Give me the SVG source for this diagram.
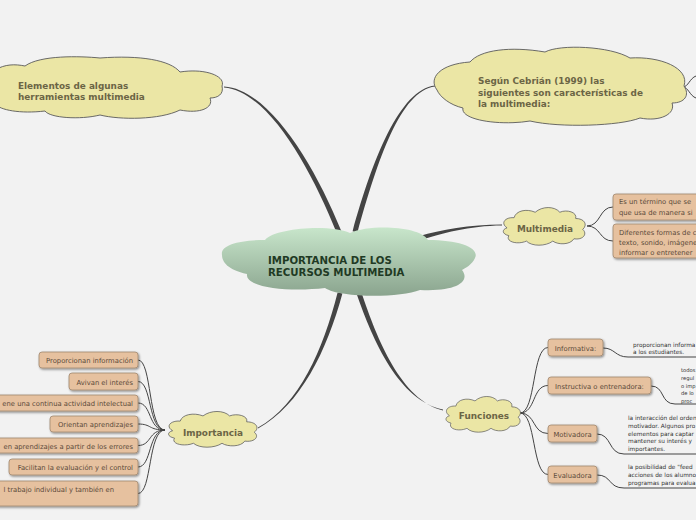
<svg xmlns="http://www.w3.org/2000/svg" width="696" height="520" viewBox="0 0 696 520">
<defs>
<linearGradient id="gc" x1="0" y1="0" x2="0" y2="1">
<stop offset="0" stop-color="#c8e6cb"/>
<stop offset="1" stop-color="#8aa48e"/>
</linearGradient>
<filter id="sh" x="-10%" y="-20%" width="130%" height="160%">
<feDropShadow dx="1" dy="1.2" stdDeviation="0.8" flood-color="#000" flood-opacity="0.45"/>
</filter>
<path id="sc" d="M 8,28 C 0,22 6,14 16,15 C 18,6 30,3 40,8 C 48,0 62,0 68,8 C 76,4 88,8 86,16 C 96,16 100,24 94,30 C 100,36 94,44 84,42 C 80,50 66,50 60,45 C 52,52 36,52 30,45 C 20,50 6,46 10,38 C 2,36 2,30 8,28 Z"/>
</defs>
<style>
.bg{fill:#f2f2f2}
.cl{fill:#ebe6a5;stroke:#5a5a5a;stroke-width:0.9;vector-effect:non-scaling-stroke}
.ct{font-family:"DejaVu Sans",Verdana,sans-serif;font-weight:bold;font-size:8.9px;fill:#6b6545}
.mt{font-family:"DejaVu Sans",Verdana,sans-serif;font-weight:bold;font-size:10.2px;fill:#1f3a24}
.bx{fill:#e6c19f;stroke:#a08870;stroke-width:0.8;filter:url(#sh)}
.bt{font-family:"DejaVu Sans",Verdana,sans-serif;font-size:6.8px;fill:#5b4a3a}
.st{font-family:"DejaVu Sans",Verdana,sans-serif;font-size:5.8px;fill:#333}
.sn{font-family:"DejaVu Sans",Verdana,sans-serif;font-size:5.2px;fill:#333}
.ln{fill:none;stroke:#444;stroke-width:1}
.tp{fill:#444}
</style>
<rect class="bg" x="0" y="0" width="696" height="520"/>

<g id="connectors">
<path class="tp" d="M 224,86.5 C 268.5,89 314,163.5 341.3,231.1 L 336.7,232.9 C 310,166.5 267.5,91 224,87.5 Z"/>
<path class="tp" d="M 435,85.5 C 399.5,89.5 372.5,159.5 352.6,231.3 L 357.4,232.7 C 377.5,160.5 400.5,90.5 435,86.5 Z"/>
<path class="tp" d="M 502,224.5 C 470,224.5 440,230 419.5,236 L 420.5,240 C 440,234 470,225.5 502,225.5 Z"/>
<path class="tp" d="M 337.6,292.4 C 323,349.5 299.5,404.5 258,427.5 L 258,428.5 C 300.5,405.5 327,350.5 342.4,293.6 Z"/>
<path class="tp" d="M 356.6,293.8 C 373,341 399,400.5 443,409.5 L 443,410.5 C 401,399.5 377,339 361.4,292.2 Z"/>
<path class="ln" d="M 683,87 C 688,87 690,78 696,76 M 683,87 C 688,87 690,96 696,98"/>
<path class="ln" d="M 587,226 C 601,226 599,207 613,207 M 587,226 C 601,226 599,241 613,241"/>
<path class="ln" d="M 138,360 C 152,360 148,430 165,430 M 138,381.5 C 152,381.5 148,430 165,430 M 138,403 C 152,403 148,430 165,430 M 138,424 C 152,424 148,430 165,430 M 138,445.5 C 152,445.5 148,430 165,430 M 138,467 C 152,467 148,430 165,430 M 138,493.5 C 152,493.5 148,430 165,430"/>
<path class="ln" d="M 520,413 C 536,413 532,347.5 548,347.5 M 520,413 C 536,413 532,385.5 548,385.5 M 520,413 C 536,413 532,433.5 548,433.5 M 520,413 C 536,413 532,474.5 548,474.5"/>
<path class="ln" d="M 603,348 C 615,348 615,357 628,357 L 696,357"/>
<path class="ln" d="M 651,386 C 665,386 660,404 675,404 L 696,404"/>
<path class="ln" d="M 597,434 C 612,434 608,454 624,454 L 696,454"/>
<path class="ln" d="M 597,475 C 612,475 608,488 624,488 L 696,488"/>
</g>

<g id="center">
<path fill="url(#gc)" d="M 222,255 C 220,245 240,240 265,240 C 275,228 330,224 350,233 C 370,224 420,226 428,240 C 460,240 480,248 475,258 C 472,265 465,268 462,270 C 470,280 460,292 420,290 C 400,298 340,298 325,288 C 290,292 245,288 247,274 C 228,270 222,262 222,255 Z"/>
<text class="mt" x="268" y="263.5">IMPORTANCIA DE LOS</text>
<text class="mt" x="268" y="275.5">RECURSOS MULTIMEDIA</text>
</g>

<g id="elementos">
<path class="cl" d="M -5,70 C 5,64 15,64 25,66 C 40,55 80,56 100,58 C 140,55 170,60 180,72 C 205,68 226,76 222,86 C 224,94 218,98 210,98 C 214,108 200,114 180,110 C 160,120 120,120 100,115 C 80,120 50,118 45,111 C 20,114 0,110 -5,104 Z"/>
<text class="ct" x="18" y="89">Elementos de algunas</text>
<text class="ct" x="18" y="100">herramientas multimedia</text>
</g>

<g id="cebrian">
<path class="cl" d="M 437,90 C 428,78 440,64 470,62 C 480,50 510,46 545,52 C 560,44 610,46 630,58 C 660,56 690,68 684,86 C 690,95 685,103 672,103 C 676,114 660,122 640,118 C 620,126 560,128 530,121 C 500,126 460,120 463,108 C 450,105 440,97 437,90 Z"/>
<text class="ct" x="478" y="84">Según Cebrián (1999) las</text>
<text class="ct" x="478" y="95.5">siguientes son características de</text>
<text class="ct" x="478" y="107">la multimedia:</text>
</g>

<g id="multimedia">
<use href="#sc" class="cl" transform="translate(500,206) scale(0.88,0.78)"/>
<text class="ct" x="545" y="232" text-anchor="middle">Multimedia</text>
</g>
<g id="mm1">
<rect class="bx" x="613" y="194" width="100" height="26" rx="3"/>
<text class="bt" x="619" y="204">Es un término que se</text>
<text class="bt" x="619" y="215">que usa de manera si</text>
</g>
<g id="mm2">
<rect class="bx" x="613" y="224" width="100" height="34" rx="3"/>
<text class="bt" x="619" y="235">Diferentes formas de c</text>
<text class="bt" x="619" y="245">texto, sonido, imágene</text>
<text class="bt" x="619" y="255">informar o entretener</text>
</g>

<g id="importancia">
<use href="#sc" class="cl" transform="translate(165,410) scale(0.95,0.74)"/>
<text class="ct" x="213" y="436" text-anchor="middle">Importancia</text>
</g>
<g id="imp1"><rect class="bx" x="39" y="352" width="99" height="16" rx="3"/><text class="bt" x="133" y="363" text-anchor="end">Proporcionan información</text></g>
<g id="imp2"><rect class="bx" x="69" y="373" width="69" height="17" rx="3"/><text class="bt" x="133" y="384.5" text-anchor="end">Avivan el interés</text></g>
<g id="imp3"><rect class="bx" x="-5" y="395" width="143" height="16" rx="3"/><text class="bt" x="133" y="406" text-anchor="end">ene una continua actividad intelectual</text></g>
<g id="imp4"><rect class="bx" x="50" y="416" width="88" height="16" rx="3"/><text class="bt" x="133" y="427" text-anchor="end">Orientan aprendizajes</text></g>
<g id="imp5"><rect class="bx" x="-5" y="438" width="143" height="15" rx="3"/><text class="bt" x="133" y="448.5" text-anchor="end">en aprendizajes a partir de los errores</text></g>
<g id="imp6"><rect class="bx" x="9" y="459" width="129" height="16" rx="3"/><text class="bt" x="133" y="470" text-anchor="end">Facilitan la evaluación y el control</text></g>
<g id="imp7"><rect class="bx" x="-5" y="481" width="143" height="25" rx="3"/><text class="bt" x="114" y="492" text-anchor="end">l trabajo individual y también en</text></g>

<g id="funciones">
<use href="#sc" class="cl" transform="translate(443,395) scale(0.8,0.74)"/>
<text class="ct" x="484" y="419" text-anchor="middle">Funciones</text>
</g>
<g id="informativa"><rect class="bx" x="548" y="339" width="55" height="17" rx="3"/><text class="bt" x="575.5" y="350.5" text-anchor="middle">Informativa:</text></g>
<g id="instructiva"><rect class="bx" x="548" y="377" width="103" height="17" rx="3"/><text class="bt" x="599.5" y="388.5" text-anchor="middle">Instructiva o entrenadora:</text></g>
<g id="motivadora"><rect class="bx" x="548" y="425" width="49" height="17" rx="3"/><text class="bt" x="572.5" y="436.5" text-anchor="middle">Motivadora</text></g>
<g id="evaluadora"><rect class="bx" x="548" y="466" width="49" height="17" rx="3"/><text class="bt" x="572.5" y="477.5" text-anchor="middle">Evaluadora</text></g>

<g id="t-informativa">
<text class="st" x="633" y="347">proporcionan informa</text>
<text class="st" x="633" y="354">a los estudiantes.</text>
</g>
<g id="t-instructiva">
<text class="sn" x="681" y="372">todos</text>
<text class="sn" x="681" y="380">regul</text>
<text class="sn" x="681" y="387.5">o imp</text>
<text class="sn" x="681" y="395">de lo</text>
<text class="sn" x="681" y="402.5">proc</text>
</g>
<g id="t-motivadora">
<text class="st" x="628" y="420">la interacción del orden</text>
<text class="st" x="628" y="428">motivador. Algunos pro</text>
<text class="st" x="628" y="435.5">elementos para captar</text>
<text class="st" x="628" y="443">mantener su interés y</text>
<text class="st" x="628" y="450.5">importantes.</text>
</g>
<g id="t-evaluadora">
<text class="st" x="628" y="469">la posibilidad de "feed</text>
<text class="st" x="628" y="477">acciones de los alumno</text>
<text class="st" x="628" y="485">programas para evalua</text>
</g>
</svg>
